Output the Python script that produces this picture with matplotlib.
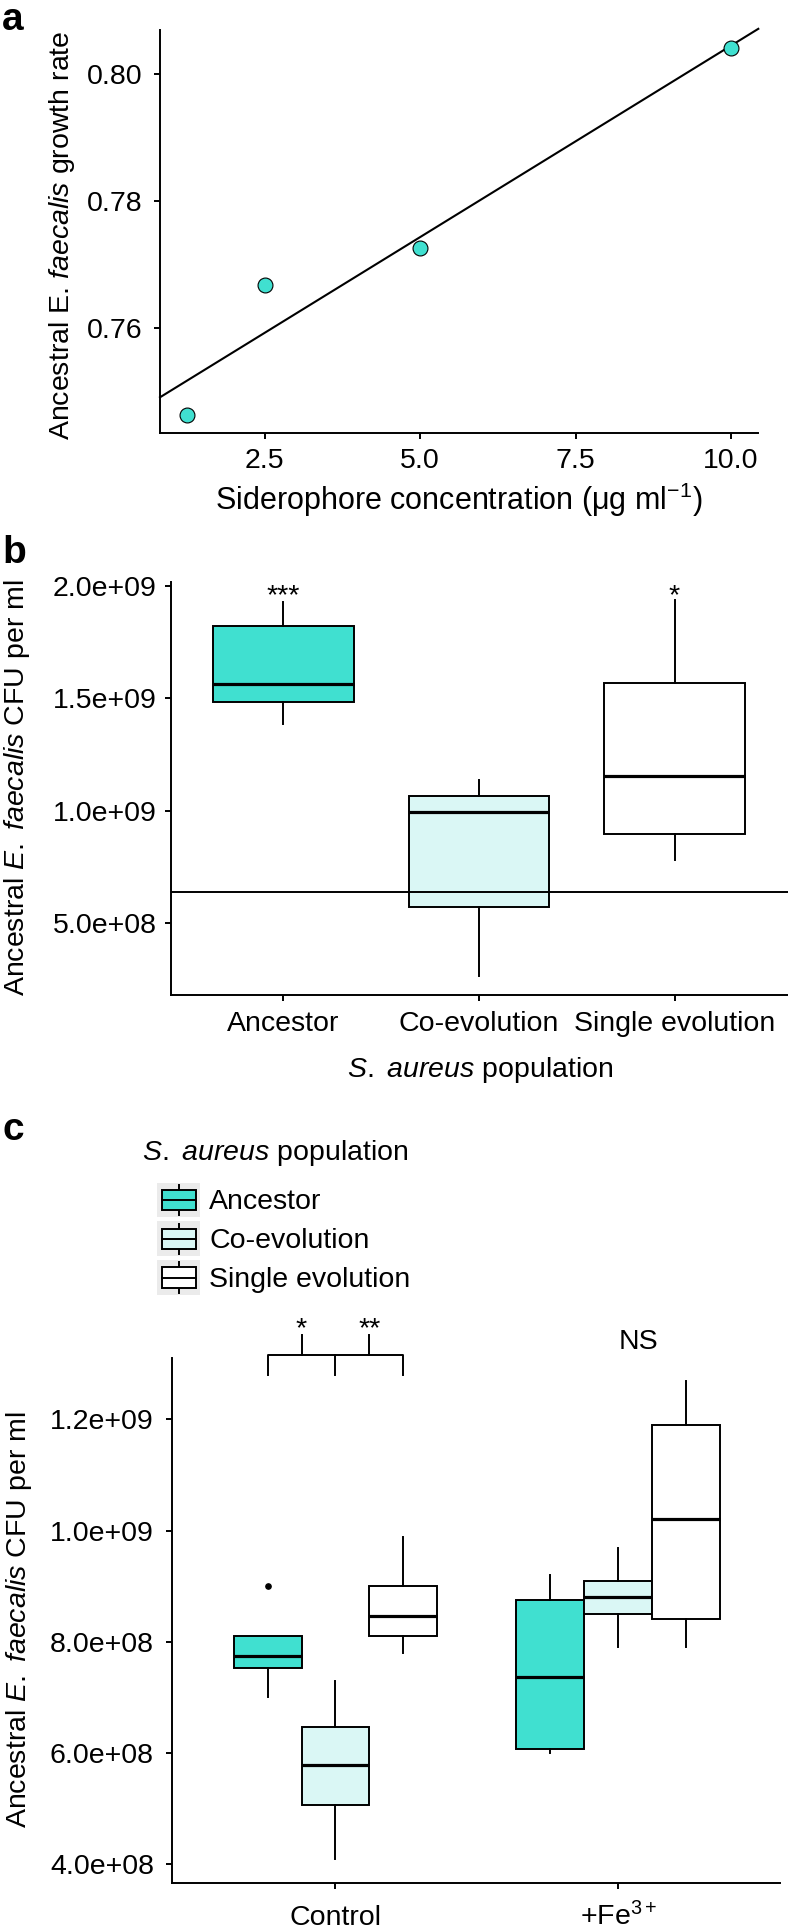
import matplotlib
matplotlib.use('Agg')
import matplotlib.pyplot as plt
from matplotlib.patches import Rectangle, Patch
from matplotlib.lines import Line2D
from matplotlib.legend_handler import HandlerBase
from matplotlib.ticker import FuncFormatter
import numpy as np

plt.rcParams['font.family'] = ['Liberation Sans', 'DejaVu Sans']
plt.rcParams['mathtext.fontset'] = 'custom'
plt.rcParams['mathtext.rm'] = 'Liberation Sans'
plt.rcParams['mathtext.it'] = 'Liberation Sans:italic'
plt.rcParams['mathtext.bf'] = 'Liberation Sans:bold'

W, H = 788, 1932
FS = 20.5

# ===== Data =====
# panel a: siderophore dose response
sid_conc = [1.25, 2.5, 5.0, 10.0]
growth_rate = [0.7463, 0.7667, 0.7726, 0.8041]

# panel b: box summaries per S. aureus population
populations = ['Ancestor', 'Co-evolution', 'Single evolution']
pop_colors = ['#40E0D0', '#DAF7F5', '#FFFFFF']
b_whislo = [1.387e9, 0.267e9, 0.782e9]
b_q1 = [1.484e9, 0.572e9, 0.898e9]
b_med = [1.566e9, 0.996e9, 1.156e9]
b_q3 = [1.824e9, 1.067e9, 1.569e9]
b_whishi = [1.930e9, 1.138e9, 1.938e9]
b_ref_line = 6.4e8
b_signif = ['***', '', '*']

# panel c: Control (Anc, Co, Single) then +Fe3+ (Anc, Co, Single)
conditions = ['Control', r'+Fe$^{3+}$']
c_whislo = [0.701e9, 0.4095e9, 0.780e9, 0.600e9, 0.791e9, 0.791e9]
c_q1 = [0.7525e9, 0.507e9, 0.8108e9, 0.6077e9, 0.851e9, 0.8414e9]
c_med = [0.7754e9, 0.579e9, 0.846e9, 0.7363e9, 0.880e9, 1.0205e9]
c_q3 = [0.810e9, 0.647e9, 0.900e9, 0.8748e9, 0.9097e9, 1.1903e9]
c_whishi = [0.810e9, 0.729e9, 0.989e9, 0.9198e9, 0.9694e9, 1.2696e9]
c_fliers = [[0.9e9], [], [], [], [], []]


def add_axes_px(fig, left, top, right, bottom):
    return fig.add_axes([left / W, 1 - bottom / H, (right - left) / W, (bottom - top) / H])


def style_axes(ax, ypad, xpad=7):
    for s in ['top', 'right']:
        ax.spines[s].set_visible(False)
    for s in ['left', 'bottom']:
        ax.spines[s].set_linewidth(1.4)
    ax.tick_params(axis='both', direction='out', length=4.3, width=1.4,
                   labelsize=FS, colors='black')
    ax.tick_params(axis='y', pad=ypad)
    ax.tick_params(axis='x', pad=xpad)


class HandlerMiniBox(HandlerBase):
    """Legend key drawn as a tiny boxplot on a grey tile (ggplot style)."""
    def create_artists(self, legend, orig_handle, xdescent, ydescent,
                       width, height, fontsize, trans):
        x0, y0 = -xdescent, -ydescent
        bg = Rectangle((x0, y0), width, height, facecolor='#EBEBEB',
                       edgecolor='none', transform=trans)
        bw, bh = 0.8 * width, 0.58 * height
        bx, by = x0 + (width - bw) / 2, y0 + (height - bh) / 2
        cx, cy = x0 + width / 2, y0 + height / 2
        whisk = Line2D([cx, cx], [y0 + 0.06 * height, y0 + 0.94 * height],
                       color='black', lw=1.4, transform=trans)
        box = Rectangle((bx, by), bw, bh, facecolor=orig_handle.get_facecolor(),
                        edgecolor='black', lw=1.4, transform=trans)
        med = Line2D([bx, bx + bw], [cy, cy], color='black', lw=1.4, transform=trans)
        return [bg, whisk, box, med]


def box_stats(lo, q1, med, q3, hi, fliers=None):
    out = []
    for i in range(len(med)):
        out.append(dict(whislo=lo[i], q1=q1[i], med=med[i], q3=q3[i], whishi=hi[i],
                        fliers=(fliers[i] if fliers else [])))
    return out


box_kw = dict(patch_artist=True, showcaps=False, manage_ticks=False,
              boxprops=dict(edgecolor='black', linewidth=1.4),
              medianprops=dict(color='black', linewidth=2.3),
              whiskerprops=dict(color='black', linewidth=1.4),
              flierprops=dict(marker='o', markerfacecolor='black',
                              markeredgecolor='black', markersize=3.8))

fig = plt.figure(figsize=(W / 100, H / 100), dpi=100)

# ===== Panel a =====
ax_a = add_axes_px(fig, 160, 30, 758.3, 432.7)
xl_a = np.array([0.812, 10.44])
coef = np.polyfit(sid_conc, growth_rate, 1)
ax_a.plot(xl_a, np.polyval(coef, xl_a), color='black', lw=1.5, zorder=2, clip_on=False)
ax_a.scatter(sid_conc, growth_rate, s=115, facecolor='#40E0D0', edgecolor='black',
             linewidth=0.8, zorder=3, clip_on=False)
ax_a.set_xlim(xl_a)
ax_a.set_ylim(0.7435, 0.8069)
ax_a.set_xticks([2.5, 5.0, 7.5, 10.0])
ax_a.set_yticks([0.76, 0.78, 0.80])
ax_a.xaxis.set_major_formatter(FuncFormatter(lambda v, p: f'{v:.1f}'))
ax_a.yaxis.set_major_formatter(FuncFormatter(lambda v, p: f'{v:.2f}'))
style_axes(ax_a, ypad=8.2)
fig.text(459 / W, 1 - 500 / H, 'Siderophore concentration (μg ml$^{-1}$)',
         ha='center', va='center', fontsize=22)
fig.text(62 / W, 1 - 235 / H, r'Ancestral E. $\it{faecalis}$ growth rate',
         ha='center', va='center', rotation=90, fontsize=FS)

# ===== Panel b =====
ax_b = add_axes_px(fig, 170.7, 581.7, 788, 995)
bp = ax_b.bxp(box_stats(b_whislo, b_q1, b_med, b_q3, b_whishi),
              positions=[1, 2, 3], widths=0.72, **box_kw)
for patch, col in zip(bp['boxes'], pop_colors):
    patch.set_facecolor(col)
ax_b.axhline(b_ref_line, color='black', lw=1.4, zorder=5)
for i, s in enumerate(b_signif):
    ax_b.text(i + 1, 1.925e9, s, ha='center', va='baseline', fontsize=FS)
ax_b.set_xlim(0.424, 3.58)
ax_b.set_ylim(1.82e8, 2.019e9)
ax_b.set_xticks([1, 2, 3])
ax_b.set_xticklabels(populations)
ax_b.set_yticks([5e8, 1e9, 1.5e9, 2e9])
ax_b.yaxis.set_major_formatter(FuncFormatter(lambda v, p: f'{v:.1e}'))
style_axes(ax_b, ypad=5.8)
fig.text(480 / W, 1 - 1070 / H, r'$\it{S.\ aureus}$ population',
         ha='center', va='center', fontsize=FS)
fig.text(17.5 / W, 1 - 788 / H, r'Ancestral $\it{E.\ faecalis}$ CFU per ml',
         ha='center', va='center', rotation=90, fontsize=FS)

# ===== Panel c =====
ax_c = add_axes_px(fig, 172.3, 1357.7, 780, 1882.7)
offsets = [-0.24, 0.0, 0.24]
pos_c = [c + o for c in [1, 2] for o in offsets]
bp = ax_c.bxp(box_stats(c_whislo, c_q1, c_med, c_q3, c_whishi, c_fliers),
              positions=pos_c, widths=0.24, **box_kw)
for patch, col in zip(bp['boxes'], pop_colors * 2):
    patch.set_facecolor(col)

# significance bracket over Control
br_leg, br_y, br_up = 1.2797e9, 1.316e9, 1.352e9
ax_c.plot([0.76, 0.76, 1.24, 1.24], [br_leg, br_y, br_y, br_leg], color='black',
          lw=1.4, clip_on=False)
ax_c.plot([1.0, 1.0], [br_leg, br_y], color='black', lw=1.4, clip_on=False)
for xm, lab in zip([0.88, 1.12], ['*', '**']):
    ax_c.plot([xm, xm], [br_y, br_up], color='black', lw=1.4, clip_on=False)
    ax_c.text(xm, 1.349e9, lab, ha='center', va='baseline', fontsize=FS)
ax_c.text(2.07, 1.339e9, 'NS', ha='center', va='center', fontsize=FS)

ax_c.set_xlim(0.423, 2.572)
ax_c.set_ylim(0.367e9, 1.311e9)
ax_c.set_xticks([1, 2])
ax_c.set_xticklabels(conditions)
ax_c.set_yticks([4e8, 6e8, 8e8, 1e9, 1.2e9])
ax_c.yaxis.set_major_formatter(FuncFormatter(lambda v, p: f'{v:.1e}'))
style_axes(ax_c, ypad=8.9, xpad=26.5)
for lab in ax_c.get_xticklabels():
    lab.set_va('baseline')
fig.text(19 / W, 1 - 1620 / H, r'Ancestral $\it{E.\ faecalis}$ CFU per ml',
         ha='center', va='center', rotation=90, fontsize=FS)

# legend for panel c
fig.text(141.7 / W, 1 - 1153.3 / H, r'$\it{S.\ aureus}$ population',
         ha='left', va='center', fontsize=FS)
handles = [Patch(facecolor=c, edgecolor='black', label=p)
           for p, c in zip(populations, pop_colors)]
fig.legend(handles=handles, handler_map={Patch: HandlerMiniBox()},
           loc='upper left', bbox_to_anchor=(157.3 / W, 1 - 1182.7 / H),
           bbox_transform=fig.transFigure, frameon=False, borderpad=0,
           borderaxespad=0, handlelength=1.5, handleheight=1.5,
           labelspacing=0.14, handletextpad=0.33, fontsize=FS)

# ===== Panel letters =====
for lab, yb in [('a', 30), ('b', 563), ('c', 1140)]:
    fig.text(2 / W, 1 - yb / H, lab, fontsize=28, fontweight='bold',
             ha='left', va='baseline')

fig.savefig('out.png', dpi=100, facecolor='white')
plt.close(fig)
